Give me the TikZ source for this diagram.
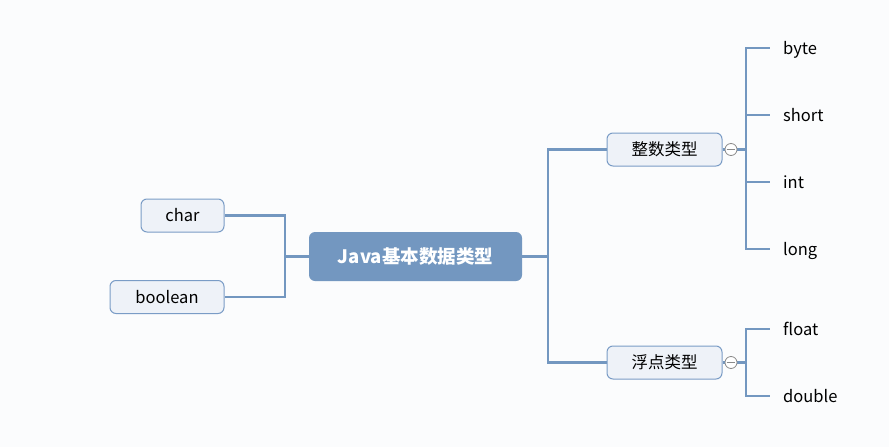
\documentclass[tikz,border=0pt]{standalone}
\usepackage{fontspec}
\setmainfont{Noto Sans CJK SC}
\usetikzlibrary{positioning}
\definecolor{branch}{HTML}{7397C0}
\definecolor{topicfill}{HTML}{EEF2F8}
\definecolor{topicline}{HTML}{7A9CC6}
\definecolor{paper}{HTML}{FBFCFD}
\definecolor{fold}{HTML}{8A8A8A}

\begin{document}
\begin{tikzpicture}[x=1pt, y=-1pt,
    root/.style={fill=branch, rounded corners=6pt, minimum width=213pt, minimum height=49pt,
        text=white, font=\fontsize{18.5}{22}\selectfont\bfseries},
    topic/.style={draw=topicline, fill=topicfill, line width=1pt, rounded corners=6pt,
        minimum height=33pt, font=\fontsize{16.5}{19}\selectfont},
    leaf/.style={anchor=west, inner sep=0pt, text height=13pt, text depth=0pt,
        font=\fontsize{16.5}{19}\selectfont},
    foldbtn/.style={circle, draw=fold, fill=white, line width=0.8pt, minimum size=12pt, inner sep=0pt},
    branchline/.style={draw=branch, line width=2.5pt}]
    \fill[paper] (0,0) rectangle (889,447);
    \useasboundingbox (0,0) rectangle (889,447);

    % main topic and left side
    \node[root] (java) at (415.5,256.5) {Java基本数据类型};
    \node[topic, minimum width=83pt] (char) at (182.5,215.5) {char};
    \node[topic, minimum width=114pt] (boolean) at (167,297) {boolean};

    % right side
    \node[topic, minimum width=115pt] (intbox) at (664.5,149.5) {整数类型};
    \node[topic, minimum width=115pt] (floatbox) at (664.5,362.5) {浮点类型};

    \node[leaf] (byte) at (783,48) {byte};
    \node[leaf] (short) at (783,115) {short};
    \node[leaf] (int) at (783,182) {int};
    \node[leaf] (long) at (783,249) {long};
    \node[leaf] (float) at (783,329) {float};
    \node[leaf] (double) at (783,396) {double};

    \coordinate (ljoint) at (285,256.5);
    \coordinate (rjoint) at (548,256.5);
    \coordinate (ijoint) at (746,149.5);
    \coordinate (fjoint) at (746,362.5);

    \draw[branchline] (java.west) -- (ljoint);
    \draw[branchline] (ljoint) |- (char.east);
    \draw[branchline] (ljoint) |- (boolean.east);
    \draw[branchline] (java.east) -- (rjoint);
    \draw[branchline] (rjoint) |- (intbox.west);
    \draw[branchline] (rjoint) |- (floatbox.west);

    \draw[branchline] (intbox.east) -- (ijoint);
    \foreach \leaf in {byte,short,int,long}
        \draw[branchline] (ijoint) |- ([xshift=-13pt]\leaf.west);
    \draw[branchline] (floatbox.east) -- (fjoint);
    \foreach \leaf in {float,double}
        \draw[branchline] (fjoint) |- ([xshift=-13pt]\leaf.west);

    % collapse buttons
    \node[foldbtn] (fold1) at (731,149.5) {};
    \draw[fold, line width=0.8pt] ([xshift=2pt]fold1.west) -- ([xshift=-2pt]fold1.east);
    \node[foldbtn] (fold2) at (731,362.5) {};
    \draw[fold, line width=0.8pt] ([xshift=2pt]fold2.west) -- ([xshift=-2pt]fold2.east);
\end{tikzpicture}
\end{document}
